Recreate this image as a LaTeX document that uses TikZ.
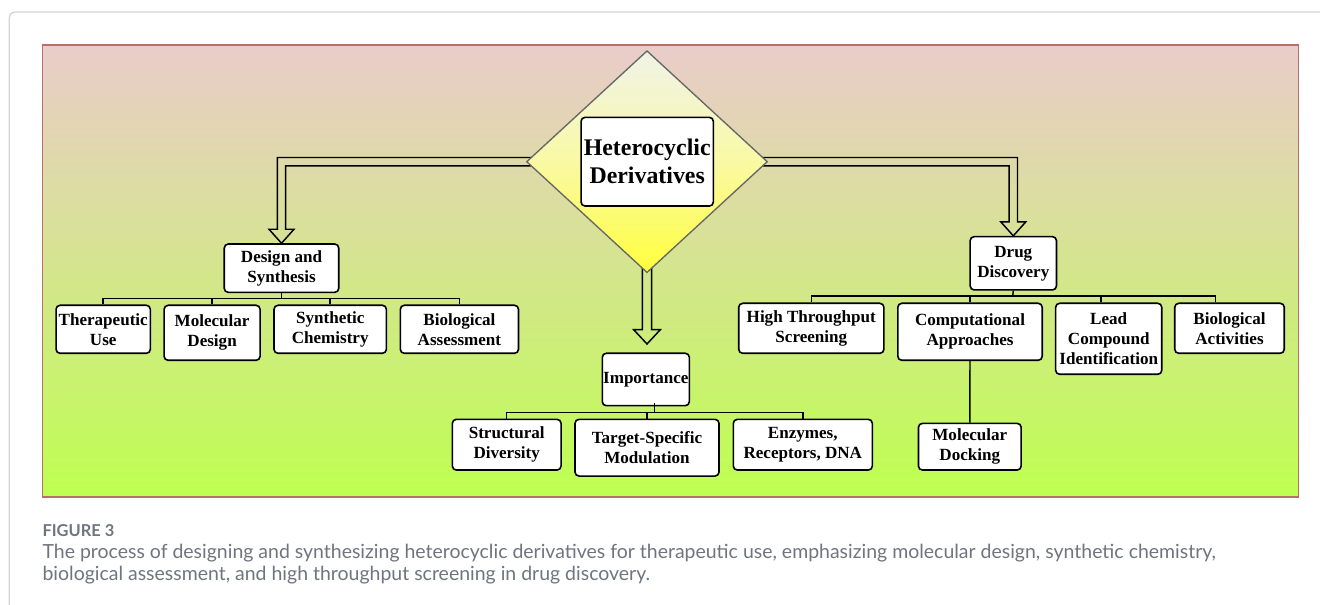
\documentclass[tikz,border=0pt]{standalone}
\usepackage{fontspec}
\setmainfont{Liberation Serif}
\newfontfamily\capfont{Lato}
\usetikzlibrary{shapes.geometric,calc}
\pgfdeclarelayer{bg}
\pgfdeclarelayer{arr}
\pgfsetlayers{bg,arr,main}
\definecolor{bgtop}{RGB}{234,204,202}
\definecolor{bgmid}{RGB}{213,226,143}
\definecolor{bgbot}{RGB}{190,255,80}
\definecolor{bgborder}{RGB}{185,110,105}
\definecolor{diatop}{RGB}{240,243,232}
\definecolor{diamid}{RGB}{249,249,165}
\definecolor{diabot}{RGB}{255,255,60}
\definecolor{framegray}{RGB}{212,212,212}
\definecolor{capgray}{RGB}{112,116,126}
\begin{document}
\begin{tikzpicture}[x=0.75pt,y=-0.75pt,
  box/.style={draw=black, fill=white, line width=1.2pt, rounded corners=3pt,
    inner sep=0pt, align=center, font=\fontsize{12.8}{15}\selectfont\bfseries},
  sz/.style 2 args={minimum width=#1*0.75pt, minimum height=#2*0.75pt},
  branch/.style={draw=black, line width=1.1pt},
  hollow/.style={draw=black, line width=1.1pt, line join=miter},
  dia/.style={shape=diamond, draw=black!60, line width=1pt, inner sep=0pt,
    top color=diatop, bottom color=diabot, middle color=diamid}
]
\useasboundingbox (0,0) rectangle (1320,605);
% card frame
\draw[framegray, line width=1pt, rounded corners=4pt] (9.3,605) -- (9.3,12) -- (1320,12);
% background
\begin{pgfonlayer}{bg}
\shade[top color=bgtop, middle color=bgmid, bottom color=bgbot] (42.5,45) rectangle (1298.5,497);
\draw[bgborder, line width=1.1pt] (42.5,45) rectangle (1298.5,497);
\end{pgfonlayer}

% central diamond
\node[dia, minimum width=241*0.75pt, minimum height=222*0.75pt] (dia) at (647,161.7) {};
\node[box, sz={132.3}{88.7}, font=\fontsize{17.9}{21}\selectfont\bfseries] (het) at (647.2,161.7) {Heterocyclic\\Derivatives};

% second level
\node[box, sz={114.5}{48.3}] (ds) at (281.5,268.2) {Design and\\Synthesis};
\node[box, sz={86.3}{53.3}] (dd) at (1013.3,263.3) {Drug\\Discovery};
\node[box, sz={87}{52.4}] (imp) at (645.8,379.5) {Importance};

% design and synthesis children
\node[box, sz={94.3}{48}] (tu) at (103.2,329.3) {Therapeutic\\Use};
\node[box, sz={96}{55}] (md) at (212.1,332.8) {Molecular\\Design};
\node[box, sz={112.4}{48}] (sc) at (330.2,329.3) {Synthetic\\Chemistry};
\node[box, sz={118.2}{48}] (ba) at (459.4,329.3) {Biological\\Assessment};

% drug discovery children
\node[box, sz={145.2}{50}] (hts) at (811.3,328.3) {High Throughput\\Screening};
\node[box, sz={144.4}{57}] (ca) at (970,331.8) {Computational\\Approaches};
\node[box, sz={106.1}{71}] (lci) at (1108.7,338.8) {Lead\\Compound\\Identification};
\node[box, sz={109.5}{50}] (bact) at (1229.5,328.3) {Biological\\Activities};
\node[box, sz={102.7}{46.7}] (mdock) at (969.8,446.7) {Molecular\\Docking};

% importance children
\node[box, sz={108.7}{50.7}] (sd) at (506.7,444.7) {Structural\\Diversity};
\node[box, sz={144}{56.7}] (tsm) at (647,447.7) {Target-Specific\\Modulation};
\node[box, sz={139}{50.7}] (erd) at (802.8,444.7) {Enzymes,\\Receptors, DNA};

% hollow arrows (under the diamond)
\begin{pgfonlayer}{arr}
\coordinate (lc) at (ds.north |- dia.west);
\draw[hollow] ($(dia.west)+(12,-4.2)$) -- ($(lc)+(-4.2,-4.2)$) -- ($(ds.north)+(-4.2,-14)$)
  -- ($(ds.north)+(-12.5,-14)$) -- (ds.north) -- ($(ds.north)+(12.5,-14)$)
  -- ($(ds.north)+(4.2,-14)$) -- ($(lc)+(4.2,4.2)$) -- ($(dia.west)+(12,4.2)$);
\coordinate (rc) at (dd.north |- dia.east);
\draw[hollow] ($(dia.east)+(-12,-4.2)$) -- ($(rc)+(4.2,-4.2)$) -- ($(dd.north)+(4.2,-14)$)
  -- ($(dd.north)+(12.5,-14)$) -- (dd.north) -- ($(dd.north)+(-12.5,-14)$)
  -- ($(dd.north)+(-4.2,-14)$) -- ($(rc)+(-4.2,4.2)$) -- ($(dia.east)+(-12,4.2)$);
\coordinate (dt) at ($(dia.south |- imp.north)+(0,-8.5)$);
\draw[hollow] ($(dia.south)+(-4.6,-12)$) -- ($(dt)+(-4.6,-14.3)$) -- ($(dt)+(-13.3,-14.3)$)
  -- (dt) -- ($(dt)+(13.3,-14.3)$) -- ($(dt)+(4.6,-14.3)$) -- ($(dia.south)+(4.6,-12)$);
\end{pgfonlayer}

% design and synthesis tree
\coordinate (dsbar) at (281.5,298.3);
\draw[branch] (ds.south) -- (dsbar);
\draw[branch] (tu.north) |- (dsbar) -| (ba.north);
\draw[branch] (md.north) -- (md.north |- dsbar);
\draw[branch] (sc.north) -- (sc.north |- dsbar);

% drug discovery tree
\coordinate (ddbar) at (1012.7,296);
\coordinate (lcitop) at ($(lci.north)+(-7.6,0)$);
\coordinate (bacttop) at ($(bact.north)+(-14,0)$);
\draw[branch] (dd.south) -- (ddbar);
\draw[branch] (hts.north) |- (ddbar) -| (bacttop);
\draw[branch] (ca.north) -- (ca.north |- ddbar);
\draw[branch] (lcitop) -- (lcitop |- ddbar);
\draw[branch] (ca.south) -- (mdock.north);

% importance tree
\coordinate (impbar) at (654.3,412.7);
\coordinate (impstub) at ($(imp.south)+(8.5,-3)$);
\draw[branch] (impstub) -- (impbar);
\draw[branch] (sd.north) |- (impbar) -| (erd.north);
\draw[branch] (tsm.north) -- (tsm.north |- impbar);

% caption
\node[anchor=base west, inner sep=0pt, text=capgray, font=\capfont\bfseries\fontsize{12.3}{14}\selectfont] (figlab) at (42.3,536.7) {FIGURE 3};
\node[anchor=base west, inner sep=0pt, text=capgray, font=\capfont\fontsize{14.6}{17}\selectfont] (cap1) at (42.3,558.3) {The process of designing and synthesizing heterocyclic derivatives for therapeutic use, emphasizing molecular design, synthetic chemistry,};
\node[anchor=base west, inner sep=0pt, text=capgray, font=\capfont\fontsize{14.6}{17}\selectfont] (cap2) at (42.3,580) {biological assessment, and high throughput screening in drug discovery.};
\end{tikzpicture}
\end{document}
